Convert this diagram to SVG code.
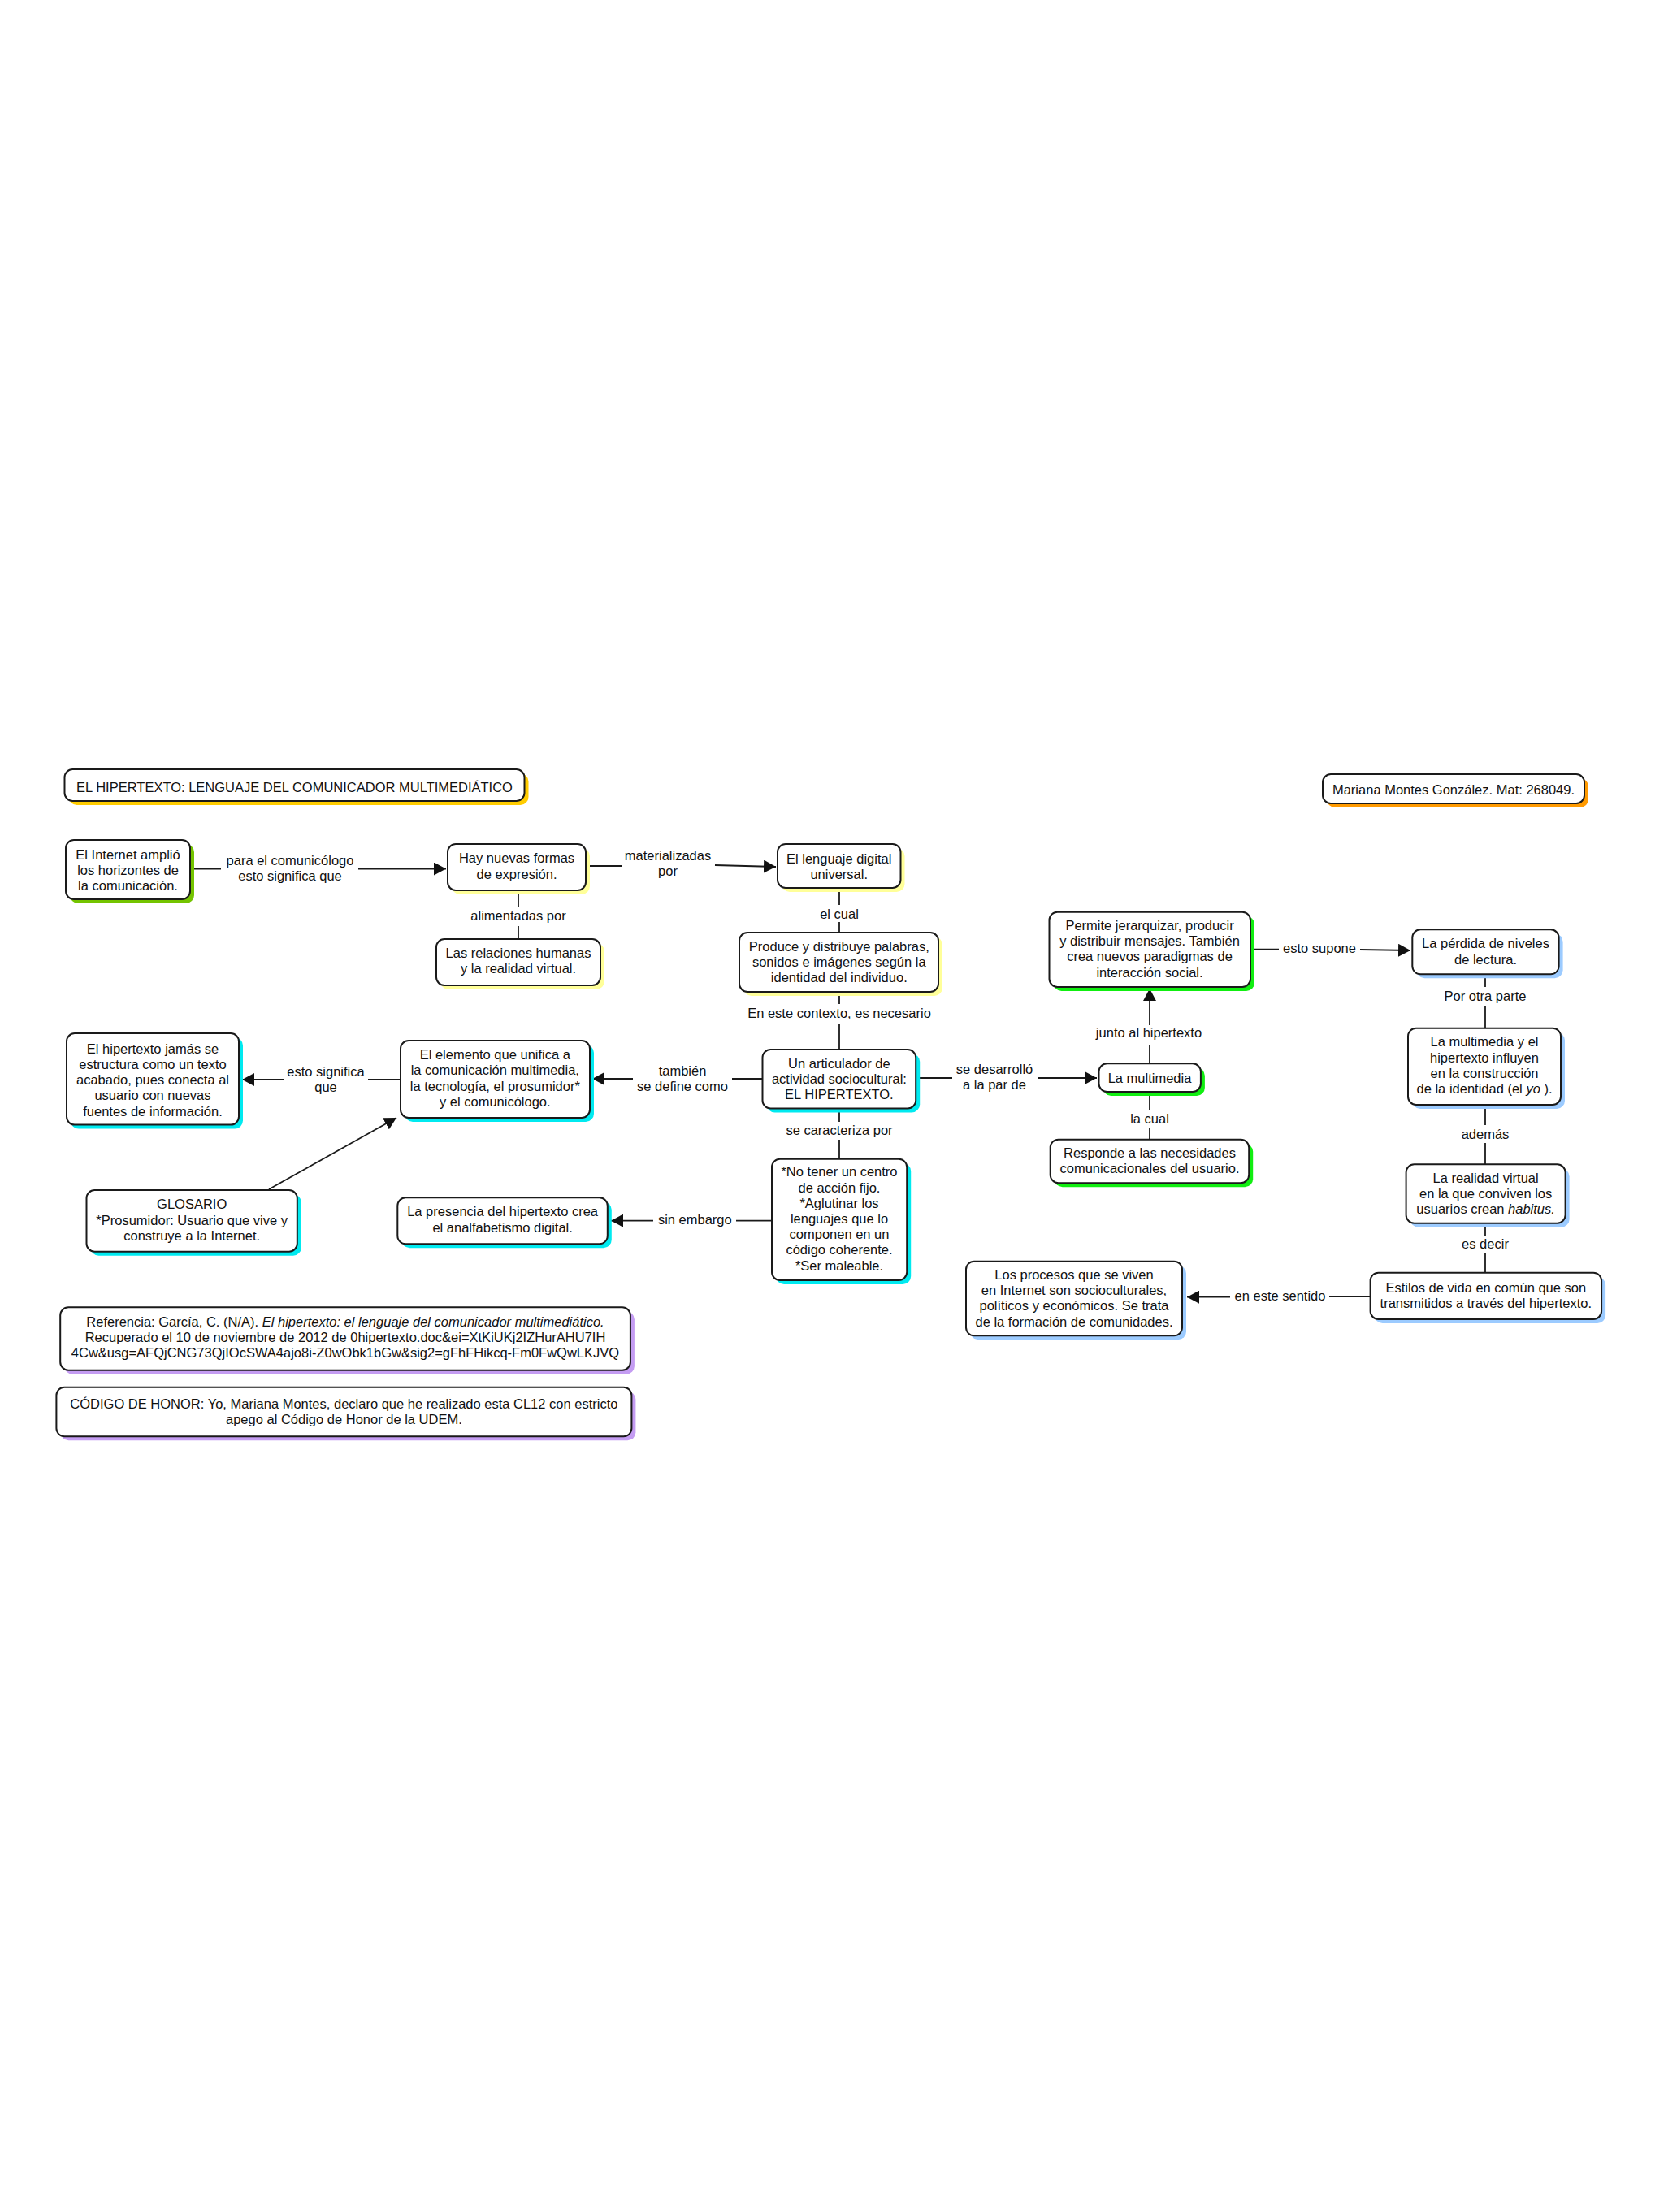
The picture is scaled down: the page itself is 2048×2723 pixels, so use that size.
<svg xmlns="http://www.w3.org/2000/svg" width="2048" height="2723" viewBox="0 0 2048 2723">
<style>
text{font-family:"Liberation Sans",Arial,sans-serif;font-size:16.5px;fill:#111;text-anchor:middle}
.box{fill:#fff;stroke:#1a1a1a;stroke-width:2}
.sh-gold{fill:#ffcc00}.sh-orange{fill:#ff9a00}.sh-lime{fill:#74c400}.sh-yel{fill:#ffff99}
.sh-cyan{fill:#00eaf0}.sh-green{fill:#11ee11}.sh-blue{fill:#9ccbff}.sh-purple{fill:#c49cf2}
.ln{fill:none;stroke:#1a1a1a;stroke-width:1.8}
.ar{marker-end:url(#arr)}
</style>
<defs>
<marker id="arr" markerUnits="userSpaceOnUse" markerWidth="16" markerHeight="16" refX="15" refY="8" orient="auto">
<path d="M0,0 L15,8 L0,16 z" fill="#111"/>
</marker>
</defs>
<rect width="2048" height="2723" fill="#fff"/>

<g id="connectors">
<line class="ln" x1="234" y1="1069.5" x2="272" y2="1069.5"/>
<text x="357"><tspan x="357" y="1065">para el comunicólogo</tspan><tspan x="357" y="1084">esto significa que</tspan></text>
<line class="ln ar" x1="441" y1="1069.5" x2="549" y2="1069.5"/>

<line class="ln" x1="638" y1="1096" x2="638" y2="1117"/>
<text x="638" y="1132.7">alimentadas por</text>
<line class="ln" x1="638" y1="1140" x2="638" y2="1156"/>

<line class="ln" x1="721" y1="1066" x2="765" y2="1066"/>
<text x="822"><tspan x="822" y="1059.3">materializadas</tspan><tspan x="822" y="1078.3">por</tspan></text>
<line class="ln ar" x1="880" y1="1065" x2="955" y2="1067"/>

<line class="ln" x1="1033" y1="1093" x2="1033" y2="1114"/>
<text x="1033" y="1130.7">el cual</text>
<line class="ln" x1="1033" y1="1135" x2="1033" y2="1148"/>

<line class="ln" x1="1033" y1="1221" x2="1033" y2="1236"/>
<text x="1033" y="1252.5">En este contexto, es necesario</text>
<line class="ln" x1="1033" y1="1260" x2="1033" y2="1292"/>

<line class="ln" x1="938" y1="1328" x2="901" y2="1328"/>
<text x="840"><tspan x="840" y="1324.3">también</tspan><tspan x="840" y="1343.3">se define como</tspan></text>
<line class="ln ar" x1="779" y1="1328" x2="729" y2="1328"/>

<line class="ln" x1="493" y1="1329" x2="453" y2="1329"/>
<text x="401"><tspan x="401" y="1325">esto significa</tspan><tspan x="401" y="1344">que</tspan></text>
<line class="ln ar" x1="350" y1="1329" x2="298" y2="1329"/>

<line class="ln ar" x1="331" y1="1464" x2="488" y2="1376"/>

<line class="ln" x1="1033" y1="1364" x2="1033" y2="1381"/>
<text x="1033" y="1396.7">se caracteriza por</text>
<line class="ln" x1="1033" y1="1403" x2="1033" y2="1427"/>

<line class="ln" x1="950" y1="1502.7" x2="906" y2="1502.7"/>
<text x="855.3" y="1507.3">sin embargo</text>
<line class="ln ar" x1="804" y1="1502.7" x2="752" y2="1502.7"/>

<line class="ln" x1="1127" y1="1327" x2="1172" y2="1327"/>
<text x="1224"><tspan x="1224" y="1321.7">se desarrolló</tspan><tspan x="1224" y="1340.7">a la par de</tspan></text>
<line class="ln ar" x1="1277" y1="1327" x2="1350" y2="1327"/>

<line class="ln" x1="1415" y1="1309" x2="1415" y2="1287"/>
<text x="1414" y="1276.7">junto al hipertexto</text>
<line class="ln ar" x1="1415" y1="1262" x2="1415" y2="1217"/>

<line class="ln" x1="1415" y1="1344" x2="1415" y2="1367"/>
<text x="1415" y="1383.3">la cual</text>
<line class="ln" x1="1415" y1="1389" x2="1415" y2="1403"/>

<line class="ln" x1="1539" y1="1168.7" x2="1574" y2="1168.7"/>
<text x="1624" y="1173.3">esto supone</text>
<line class="ln ar" x1="1674" y1="1169" x2="1736" y2="1170"/>

<line class="ln" x1="1828" y1="1199" x2="1828" y2="1215"/>
<text x="1828" y="1231.7">Por otra parte</text>
<line class="ln" x1="1828" y1="1239" x2="1828" y2="1266"/>

<line class="ln" x1="1828" y1="1360" x2="1828" y2="1385"/>
<text x="1828" y="1401.7">además</text>
<line class="ln" x1="1828" y1="1407" x2="1828" y2="1433"/>

<line class="ln" x1="1828" y1="1506" x2="1828" y2="1521"/>
<text x="1828" y="1537.3">es decir</text>
<line class="ln" x1="1828" y1="1543" x2="1828" y2="1567"/>

<line class="ln" x1="1686" y1="1596" x2="1636" y2="1596"/>
<text x="1575.5" y="1600.7">en este sentido</text>
<line class="ln ar" x1="1514" y1="1596.5" x2="1461" y2="1596.7"/>
</g>

<g id="title">
<rect class="sh-gold" x="84.5" y="952" width="566" height="39" rx="10"/>
<rect class="box" x="79.5" y="947" width="566" height="39" rx="10"/>
<text x="362.5" y="975">EL HIPERTEXTO: LENGUAJE DEL COMUNICADOR MULTIMEDIÁTICO</text>
</g>

<g id="autor">
<rect class="sh-orange" x="1633" y="958" width="322" height="36" rx="10"/>
<rect class="box" x="1628" y="953" width="322" height="36" rx="10"/>
<text x="1789" y="977.5">Mariana Montes González. Mat: 268049.</text>
</g>

<g id="internet">
<rect class="sh-lime" x="86" y="1039" width="153" height="73" rx="10"/>
<rect class="box" x="81" y="1034" width="153" height="73" rx="10"/>
<text><tspan x="157.5" y="1058.3">El Internet amplió</tspan><tspan x="157.5" y="1077.3">los horizontes de</tspan><tspan x="157.5" y="1096.3">la comunicación.</tspan></text>
</g>

<g id="hay">
<rect class="sh-yel" x="556" y="1044" width="170" height="57" rx="10"/>
<rect class="box" x="551" y="1039" width="170" height="57" rx="10"/>
<text><tspan x="636" y="1062">Hay nuevas formas</tspan><tspan x="636" y="1081.5">de expresión.</tspan></text>
</g>

<g id="relaciones">
<rect class="sh-yel" x="542" y="1161" width="202" height="57" rx="10"/>
<rect class="box" x="537" y="1156" width="202" height="57" rx="10"/>
<text><tspan x="638" y="1179">Las relaciones humanas</tspan><tspan x="638" y="1198">y la realidad virtual.</tspan></text>
</g>

<g id="lenguaje">
<rect class="sh-yel" x="962" y="1044" width="151.5" height="54" rx="10"/>
<rect class="box" x="957" y="1039" width="151.5" height="54" rx="10"/>
<text><tspan x="1032.7" y="1062.7">El lenguaje digital</tspan><tspan x="1032.7" y="1081.7">universal.</tspan></text>
</g>

<g id="produce">
<rect class="sh-yel" x="915" y="1153" width="245" height="73" rx="10"/>
<rect class="box" x="910" y="1148" width="245" height="73" rx="10"/>
<text><tspan x="1032.8" y="1170.7">Produce y distribuye palabras,</tspan><tspan x="1032.8" y="1189.7">sonidos e imágenes según la</tspan><tspan x="1032.8" y="1208.7">identidad del individuo.</tspan></text>
</g>

<g id="articulador">
<rect class="sh-cyan" x="943.5" y="1297" width="188.7" height="72.5" rx="10"/>
<rect class="box" x="938.5" y="1292" width="188.7" height="72.5" rx="10"/>
<text><tspan x="1032.9" y="1315">Un articulador de</tspan><tspan x="1032.9" y="1334">actividad sociocultural:</tspan><tspan x="1032.9" y="1353">EL HIPERTEXTO.</tspan></text>
</g>

<g id="elemento">
<rect class="sh-cyan" x="498" y="1286" width="233" height="95" rx="10"/>
<rect class="box" x="493" y="1281" width="233" height="95" rx="10"/>
<text><tspan x="609.3" y="1304">El elemento que unifica a</tspan><tspan x="609.3" y="1323.3">la comunicación multimedia,</tspan><tspan x="609.3" y="1342.5">la tecnología, el prosumidor*</tspan><tspan x="609.3" y="1361.7">y el comunicólogo.</tspan></text>
</g>

<g id="jamas">
<rect class="sh-cyan" x="87" y="1277" width="212" height="112.6" rx="10"/>
<rect class="box" x="82" y="1272" width="212" height="112.6" rx="10"/>
<text><tspan x="188" y="1296.7">El hipertexto jamás se</tspan><tspan x="188" y="1315.9">estructura como un texto</tspan><tspan x="188" y="1335.1">acabado, pues conecta al</tspan><tspan x="188" y="1354.3">usuario con nuevas</tspan><tspan x="188" y="1373.5">fuentes de información.</tspan></text>
</g>

<g id="glosario">
<rect class="sh-cyan" x="111.5" y="1470" width="259.3" height="75.7" rx="10"/>
<rect class="box" x="106.5" y="1465" width="259.3" height="75.7" rx="10"/>
<text><tspan x="236.2" y="1488.3">GLOSARIO</tspan><tspan x="236.2" y="1507.5">*Prosumidor: Usuario que vive y</tspan><tspan x="236.2" y="1526.7">construye a la Internet.</tspan></text>
</g>

<g id="presencia">
<rect class="sh-cyan" x="494.3" y="1479.3" width="258.5" height="57" rx="10"/>
<rect class="box" x="489.3" y="1474.3" width="258.5" height="57" rx="10"/>
<text><tspan x="618.6" y="1497.3">La presencia del hipertexto crea</tspan><tspan x="618.6" y="1516.5">el analfabetismo digital.</tspan></text>
</g>

<g id="caracteristicas">
<rect class="sh-cyan" x="955" y="1431.7" width="166.2" height="149.3" rx="10"/>
<rect class="box" x="950" y="1426.7" width="166.2" height="149.3" rx="10"/>
<text><tspan x="1033" y="1448.3">*No tener un centro</tspan><tspan x="1033" y="1467.5">de acción fijo.</tspan><tspan x="1033" y="1486.7">*Aglutinar los</tspan><tspan x="1033" y="1505.9">lenguajes que lo</tspan><tspan x="1033" y="1525.1">componen en un</tspan><tspan x="1033" y="1544.3">código coherente.</tspan><tspan x="1033" y="1563.5">*Ser maleable.</tspan></text>
</g>

<g id="permite">
<rect class="sh-green" x="1296.5" y="1127.7" width="247.5" height="92.3" rx="10"/>
<rect class="box" x="1291.5" y="1122.7" width="247.5" height="92.3" rx="10"/>
<text><tspan x="1415" y="1145">Permite jerarquizar, producir</tspan><tspan x="1415" y="1164.2">y distribuir mensajes. También</tspan><tspan x="1415" y="1183.4">crea nuevos paradigmas de</tspan><tspan x="1415" y="1202.6">interacción social.</tspan></text>
</g>

<g id="multimedia">
<rect class="sh-green" x="1357.5" y="1314.3" width="125.4" height="34.7" rx="10"/>
<rect class="box" x="1352.5" y="1309.3" width="125.4" height="34.7" rx="10"/>
<text x="1415" y="1332.7">La multimedia</text>
</g>

<g id="responde">
<rect class="sh-green" x="1297.7" y="1407.7" width="244.5" height="53.5" rx="10"/>
<rect class="box" x="1292.7" y="1402.7" width="244.5" height="53.5" rx="10"/>
<text><tspan x="1415" y="1425">Responde a las necesidades</tspan><tspan x="1415" y="1444.2">comunicacionales del usuario.</tspan></text>
</g>

<g id="perdida">
<rect class="sh-blue" x="1743.3" y="1149.3" width="180.3" height="55" rx="10"/>
<rect class="box" x="1738.3" y="1144.3" width="180.3" height="55" rx="10"/>
<text><tspan x="1828.5" y="1167.3">La pérdida de niveles</tspan><tspan x="1828.5" y="1186.5">de lectura.</tspan></text>
</g>

<g id="identidad">
<rect class="sh-blue" x="1738" y="1270.7" width="188" height="94.3" rx="10"/>
<rect class="box" x="1733" y="1265.7" width="188" height="94.3" rx="10"/>
<text><tspan x="1827" y="1288.3">La multimedia y el</tspan><tspan x="1827" y="1307.5">hipertexto influyen</tspan><tspan x="1827" y="1326.7">en la construcción</tspan><tspan x="1827" y="1345.9">de la identidad (el <tspan font-style="italic">yo</tspan> ).</tspan></text>
</g>

<g id="realidad">
<rect class="sh-blue" x="1735.6" y="1438.3" width="196" height="72.4" rx="10"/>
<rect class="box" x="1730.6" y="1433.3" width="196" height="72.4" rx="10"/>
<text><tspan x="1828.6" y="1456">La realidad virtual</tspan><tspan x="1828.6" y="1475">en la que conviven los</tspan><tspan x="1828.6" y="1494">usuarios crean <tspan font-style="italic">habitus.</tspan></tspan></text>
</g>

<g id="estilos">
<rect class="sh-blue" x="1691.6" y="1571.7" width="284.5" height="57.3" rx="10"/>
<rect class="box" x="1686.6" y="1566.7" width="284.5" height="57.3" rx="10"/>
<text><tspan x="1828.8" y="1590.7">Estilos de vida en común que son</tspan><tspan x="1828.8" y="1609.9">transmitidos a través del hipertexto.</tspan></text>
</g>

<g id="procesos">
<rect class="sh-blue" x="1194" y="1557.7" width="266" height="91.6" rx="10"/>
<rect class="box" x="1189" y="1552.7" width="266" height="91.6" rx="10"/>
<text><tspan x="1322" y="1575">Los procesos que se viven</tspan><tspan x="1322" y="1594.2">en Internet son socioculturales,</tspan><tspan x="1322" y="1613.4">políticos y económicos. Se trata</tspan><tspan x="1322" y="1632.6">de la formación de comunidades.</tspan></text>
</g>

<g id="referencia">
<rect class="sh-purple" x="79.2" y="1614.3" width="701.7" height="77.4" rx="10"/>
<rect class="box" x="74.2" y="1609.3" width="701.7" height="77.4" rx="10"/>
<text><tspan x="425" y="1632.7">Referencia: García, C. (N/A). <tspan font-style="italic">El hipertexto: el lenguaje del comunicador multimediático.</tspan></tspan><tspan x="425" y="1651.7">Recuperado el 10 de noviembre de 2012 de 0hipertexto.doc&amp;ei=XtKiUKj2IZHurAHU7IH</tspan><tspan x="425" y="1670.7">4Cw&amp;usg=AFQjCNG73QjIOcSWA4ajo8i-Z0wObk1bGw&amp;sig2=gFhFHikcq-Fm0FwQwLKJVQ</tspan></text>
</g>

<g id="honor">
<rect class="sh-purple" x="74.4" y="1712.7" width="708" height="60.6" rx="10"/>
<rect class="box" x="69.4" y="1707.7" width="708" height="60.6" rx="10"/>
<text><tspan x="423.4" y="1734.3">CÓDIGO DE HONOR: Yo, Mariana Montes, declaro que he realizado esta CL12 con estricto</tspan><tspan x="423.4" y="1753.3">apego al Código de Honor de la UDEM.</tspan></text>
</g>
</svg>
